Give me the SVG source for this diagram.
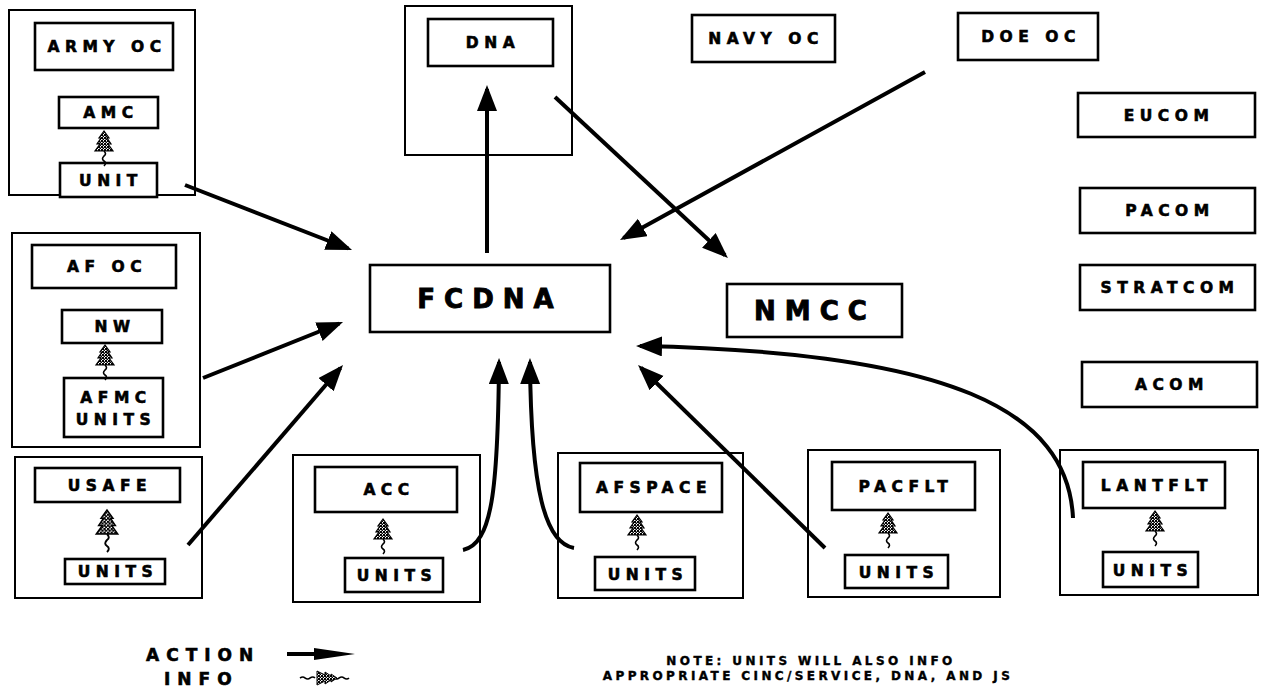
<svg xmlns="http://www.w3.org/2000/svg" xmlns:xlink="http://www.w3.org/1999/xlink" width="1270" height="692" viewBox="0 0 1270 692">
<style>
  .grp{fill:none;stroke:#000;stroke-width:2}
  .box{fill:#fff;stroke:#000;stroke-width:2.6}
  .lbl{font-family:"DejaVu Sans","Liberation Sans",Arial,sans-serif;font-weight:bold;font-size:15.5px;letter-spacing:5.5px;text-anchor:middle;fill:#000;stroke:#000;stroke-width:0.6}
  .big{font-size:26px;letter-spacing:9px;stroke-width:0.9}
  .note{font-family:"DejaVu Sans","Liberation Sans",Arial,sans-serif;font-weight:bold;font-size:12px;letter-spacing:3.4px;text-anchor:middle;fill:#000;stroke:#000;stroke-width:0.4}
  .leg{font-family:"DejaVu Sans","Liberation Sans",Arial,sans-serif;font-weight:bold;font-size:17px;letter-spacing:7px;fill:#000;stroke:#000;stroke-width:0.6}
  .act{fill:none;stroke:#000;stroke-width:4;marker-end:url(#ah)}
  .wave{fill:none;stroke:#000;stroke-width:1.6}
</style>
<defs>
  <marker id="ah" markerUnits="userSpaceOnUse" markerWidth="28" markerHeight="22" refX="22" refY="10" orient="auto">
    <path d="M0,0 L26,10 L0,20 Z" fill="#000"/>
  </marker>
  <pattern id="chk" patternUnits="userSpaceOnUse" width="3" height="3">
    <rect width="3" height="3" fill="#fff"/>
    <rect x="0" y="0" width="2" height="2" fill="#000"/>
    <rect x="1.5" y="1.5" width="1.5" height="1.5" fill="#000"/>
  </pattern>
  <g id="info">
    <path d="M0,0 L-5,7 L-3,7 L-7,13 L-4,13 L-9,20 L9,20 L4,13 L7,13 L3,7 L5,7 Z" fill="url(#chk)" stroke="#000" stroke-width="1.2"/>
    <path class="wave" d="M0,20 q3,3 0,5 q-3,3 0,5 q3,2 0,5"/>
  </g>
</defs>

<g id="army">
  <rect class="grp" x="9" y="10" width="186" height="185"/>
  <g id="army-oc"><rect class="box" x="35" y="23" width="138" height="47"/><text class="lbl" x="107" y="52">ARMY OC</text></g>
  <g id="amc"><rect class="box" x="59" y="97" width="99" height="31"/><text class="lbl" x="111" y="118">AMC</text></g>
  <g id="army-unit"><rect class="box" x="60" y="163" width="97" height="34"/><text class="lbl" x="111" y="186">UNIT</text></g>
  <use xlink:href="#info" href="#info" x="104" y="131"/>
</g>

<g id="af">
  <rect class="grp" x="12" y="233" width="188" height="214"/>
  <g id="af-oc"><rect class="box" x="32" y="245" width="144" height="43"/><text class="lbl" x="107" y="272">AF OC</text></g>
  <g id="nw"><rect class="box" x="62" y="310" width="100" height="33"/><text class="lbl" x="115" y="332">NW</text></g>
  <g id="afmc"><rect class="box" x="64" y="378" width="99" height="59"/><text class="lbl" x="116" y="403">AFMC</text><text class="lbl" x="116" y="425">UNITS</text></g>
  <use xlink:href="#info" href="#info" x="105" y="345"/>
</g>

<g id="usafe">
  <rect class="grp" x="15" y="457" width="187" height="141"/>
  <g id="usafe-box"><rect class="box" x="35" y="468" width="145" height="34"/><text class="lbl" x="110" y="491">USAFE</text></g>
  <g id="usafe-units"><rect class="box" x="65" y="559" width="100" height="25"/><text class="lbl" x="118" y="577">UNITS</text></g>
  <use xlink:href="#info" href="#info" transform="translate(107,510) scale(1.2)"/>
</g>

<g id="acc">
  <rect class="grp" x="293" y="455" width="187" height="147"/>
  <g id="acc-box"><rect class="box" x="315" y="467" width="142" height="45"/><text class="lbl" x="389" y="495">ACC</text></g>
  <g id="acc-units"><rect class="box" x="345" y="558" width="98" height="34"/><text class="lbl" x="397" y="581">UNITS</text></g>
  <use xlink:href="#info" href="#info" transform="translate(383,519)"/>
</g>

<g id="afspace">
  <rect class="grp" x="558" y="453" width="185" height="145"/>
  <g id="afspace-box"><rect class="box" x="580" y="463" width="142" height="49"/><text class="lbl" x="654" y="493">AFSPACE</text></g>
  <g id="afspace-units"><rect class="box" x="595" y="557" width="100" height="33"/><text class="lbl" x="648" y="580">UNITS</text></g>
  <use xlink:href="#info" href="#info" transform="translate(637,515)"/>
</g>

<g id="pacflt">
  <rect class="grp" x="808" y="450" width="192" height="147"/>
  <g id="pacflt-box"><rect class="box" x="832" y="462" width="143" height="48"/><text class="lbl" x="906" y="492">PACFLT</text></g>
  <g id="pacflt-units"><rect class="box" x="845" y="555" width="103" height="33"/><text class="lbl" x="899" y="578">UNITS</text></g>
  <use xlink:href="#info" href="#info" transform="translate(888,513)"/>
</g>

<g id="lantflt">
  <rect class="grp" x="1060" y="450" width="198" height="145"/>
  <g id="lantflt-box"><rect class="box" x="1083" y="462" width="142" height="46"/><text class="lbl" x="1157" y="491">LANTFLT</text></g>
  <g id="lantflt-units"><rect class="box" x="1103" y="552" width="95" height="35"/><text class="lbl" x="1153" y="576">UNITS</text></g>
  <use xlink:href="#info" href="#info" transform="translate(1155,511)"/>
</g>

<g id="dna">
  <rect class="grp" x="405" y="6" width="167" height="149"/>
  <g id="dna-box"><rect class="box" x="428" y="19" width="125" height="47"/><text class="lbl" x="493" y="48">DNA</text></g>
</g>

<g id="navy-oc"><rect class="box" x="692" y="15" width="143" height="47"/><text class="lbl" x="766" y="44">NAVY OC</text></g>
<g id="doe-oc"><rect class="box" x="958" y="13" width="140" height="47"/><text class="lbl" x="1031" y="42">DOE OC</text></g>
<g id="eucom"><rect class="box" x="1078" y="93" width="177" height="44"/><text class="lbl" x="1169" y="121">EUCOM</text></g>
<g id="pacom"><rect class="box" x="1080" y="188" width="175" height="45"/><text class="lbl" x="1170" y="216">PACOM</text></g>
<g id="stratcom"><rect class="box" x="1080" y="265" width="175" height="45"/><text class="lbl" x="1170" y="293">STRATCOM</text></g>
<g id="acom"><rect class="box" x="1082" y="362" width="175" height="45"/><text class="lbl" x="1172" y="390">ACOM</text></g>
<g id="fcdna"><rect class="box" x="370" y="265" width="240" height="67"/><text class="lbl big" x="490" y="308">FCDNA</text></g>
<g id="nmcc"><rect class="box" x="727" y="284" width="175" height="53"/><text class="lbl big" x="815" y="320">NMCC</text></g>

<g id="connectors">
  <path class="act" d="M185,185 L348.3,248.5"/>
  <path class="act" d="M203,378 L339.3,323.5"/>
  <path class="act" d="M188,545 L340.4,368"/>
  <path class="act" d="M487,253 L487,89"/>
  <path class="act" d="M555,97 L725,255.3"/>
  <path class="act" d="M925,72 L623.5,238"/>
  <path class="act" d="M825,548 L640.9,367.8"/>
  <path class="act" d="M463,550 C492,544 498,490 499,362"/>
  <path class="act" d="M574,548 C545,543 531,490 530,362"/>
  <path class="act" d="M1073,518 C1068,410 950,352 640,346"/>
</g>

<g id="legend">
  <text class="leg" x="146" y="661">ACTION</text>
  <text class="leg" x="164" y="685">INFO</text>
  <path d="M287,654 L318,654" stroke="#000" stroke-width="4"/>
  <path d="M314,648 L355,654 L314,660 Z" fill="#000"/>
  <path class="wave" d="M300,678 q3,-2 5,0 q3,2 5,0 q3,-2 5,0 M334,678 q3,2 5,0 q3,-2 5,0 q3,2 5,0"/>
  <path d="M337,678 L331,674 L331,676 L325,672 L325,675 L317,671 L317,685 L325,681 L325,684 L331,680 L331,682 Z" fill="url(#chk)" stroke="#000" stroke-width="1"/>
</g>

<g id="note">
  <text class="note" x="811" y="665">NOTE: UNITS WILL ALSO INFO</text>
  <text class="note" x="808" y="680">APPROPRIATE CINC/SERVICE, DNA, AND JS</text>
</g>
</svg>
